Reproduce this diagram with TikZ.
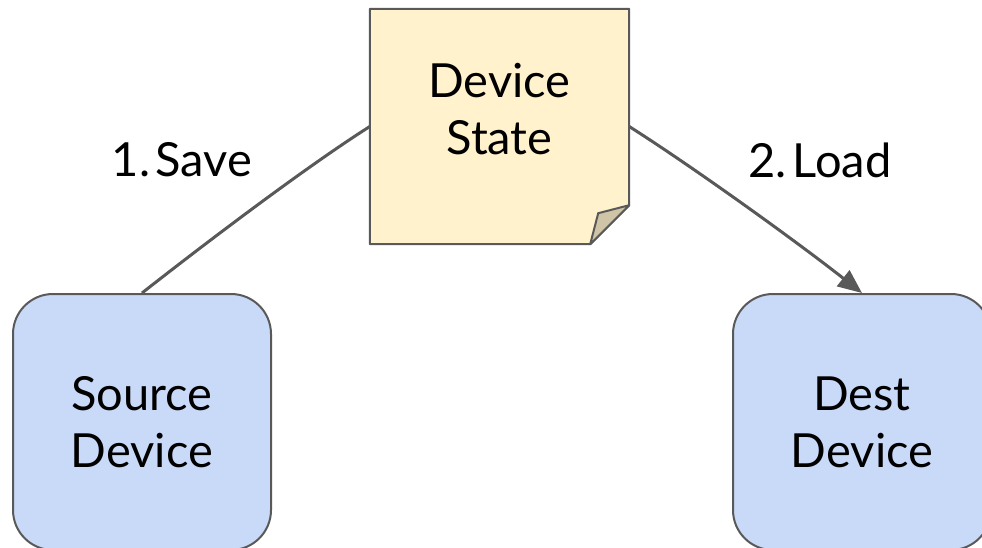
\documentclass[tikz,border=0pt]{standalone}
\usepackage{fontspec}
\setmainfont{Lato}
\usetikzlibrary{arrows.meta}
\definecolor{notefill}{HTML}{FFF2CC}
\definecolor{foldfill}{HTML}{CFC5A6}
\definecolor{boxfill}{HTML}{C9DAF8}
\definecolor{linegray}{HTML}{595959}
\begin{document}
\begin{tikzpicture}[x=1pt,y=-1pt]

      \useasboundingbox (0,0) rectangle (982,547);
      \clip (0,0) rectangle (982,547);

      \begin{scope}[every node/.style={draw=linegray,line width=2pt,fill=boxfill,rounded corners=40pt,
          minimum width=258pt,minimum height=256pt,align=center,font=\fontsize{47}{57}\selectfont}]
        \node (src) at (142,422) {Source\\Device};
        \node (dst) at (862,422) {Dest\\Device};
      \end{scope}

      \node[minimum width=259pt,minimum height=235pt,inner sep=0pt] (note) at (499.5,126.5) {};
      \draw[linegray,line width=2pt,fill=notefill,line join=round]
        (note.north west) -- (note.north east) -- ([yshift=39pt]note.south east)
        -- ([xshift=-39pt]note.south east) -- (note.south west) -- cycle;
      \draw[linegray,line width=2pt,fill=foldfill,line join=round]
        ([yshift=39pt]note.south east) -- ([xshift=-31pt,yshift=31pt]note.south east)
        -- ([xshift=-39pt]note.south east) -- cycle;
      \node[align=center,font=\fontsize{47}{57}\selectfont] (state) at ([yshift=17pt]note.center) {Device\\State};

      \begin{scope}[every node/.style={font=\fontsize{47}{57}\selectfont}]
        \node (save) at (182,160) {1.\hspace{0.12em}Save};
        \node (load) at (820,160) {2.\hspace{0.12em}Load};
      \end{scope}

      \begin{scope}[linegray,line width=3pt]
        \draw (src.north) .. controls +(70,-55) and +(-60,38) .. (note.west);
        \draw[-{Triangle[length=24pt,width=20pt]}] (note.east) .. controls +(60,38) and +(-70,-55) .. (dst.north);
      \end{scope}

    \end{tikzpicture}
\end{document}
